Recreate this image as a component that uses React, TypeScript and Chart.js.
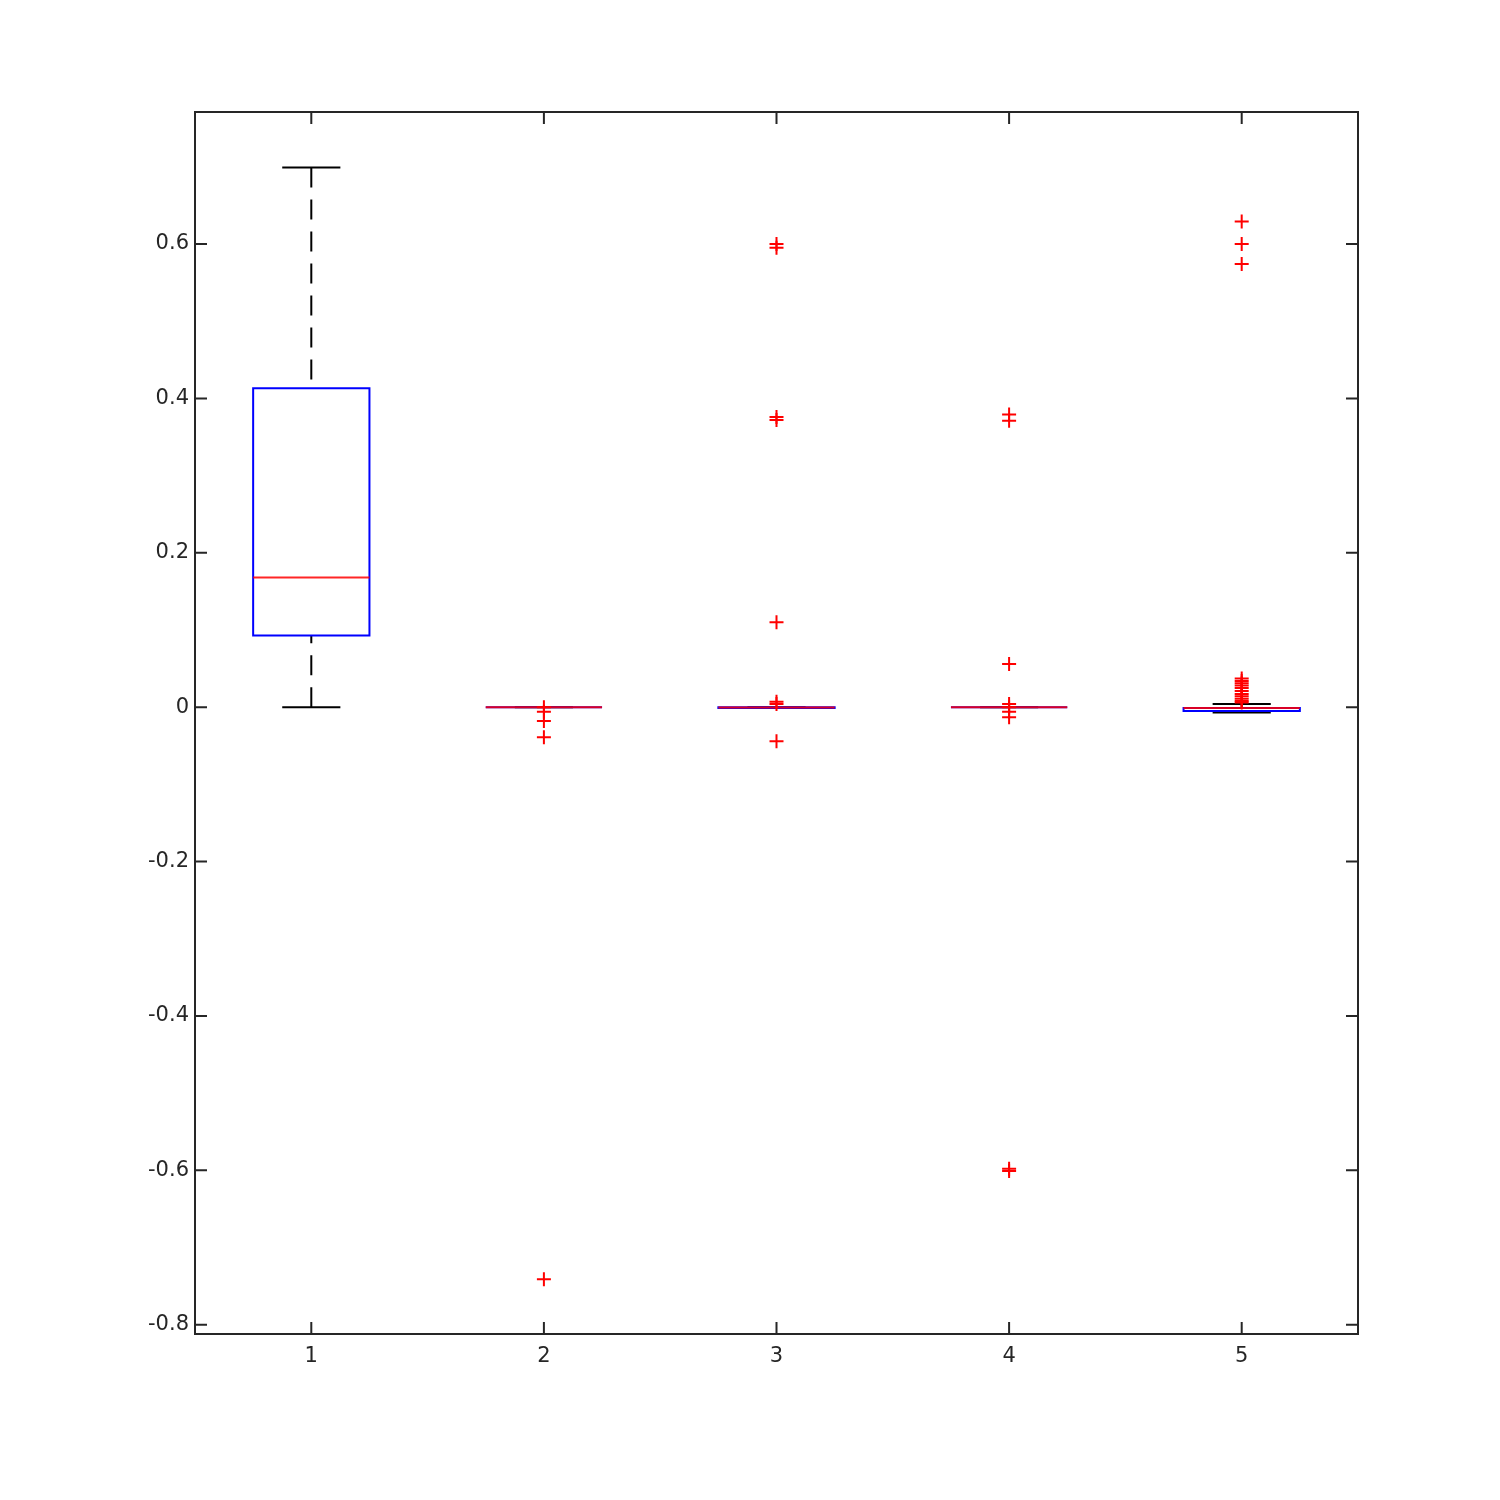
import React, { useEffect, useRef } from "react";
import { Chart, registerables } from "chart.js";

Chart.register(...registerables);

const categories = [1, 2, 3, 4, 5];
const whiskerLow = [0, 0, -0.001, 0, -0.007];
const q1 = [0.093, 0, -0.001, 0, -0.005];
const median = [0.168, 0, -0.0005, 0, -0.0012];
const q3 = [0.413, 0, 0, 0, -0.001];
const whiskerHigh = [0.699, 0, 0, 0, 0.004];

const outliers1: number[] = [];
const outliers2 = [0, -0.006, -0.018, -0.039, -0.741];
const outliers3 = [0.6, 0.595, 0.376, 0.372, 0.11, 0.007, 0.004, -0.044];
const outliers4 = [0.379, 0.371, 0.056, 0.004, 0, -0.006, -0.013, -0.598, -0.601];
const outliers5 = [0.629, 0.6, 0.574, 0.037, 0.034, 0.031, 0.028, 0.025, 0.021, 0.017, 0.014, 0.011, 0.008, 0.006];
const outlierGroups = [outliers1, outliers2, outliers3, outliers4, outliers5];

const yTicks = [-0.8, -0.6, -0.4, -0.2, 0, 0.2, 0.4, 0.6];
const xTicks = [1, 2, 3, 4, 5];

const AXIS_COLOR = "#262626";
const FONT = "'DejaVu Sans', sans-serif";

const boxPlugin = {
  id: "boxes",
  beforeDatasetsDraw(chart: any) {
    const ctx = chart.ctx;
    const xs = chart.scales.x;
    const ys = chart.scales.y;
    const boxHalf = 0.25;
    const capHalf = 0.125;
    ctx.save();
    categories.forEach((c, i) => {
      const xc = xs.getPixelForValue(c);
      const xl = xs.getPixelForValue(c - boxHalf);
      const xr = xs.getPixelForValue(c + boxHalf);
      const cl = xs.getPixelForValue(c - capHalf);
      const cr = xs.getPixelForValue(c + capHalf);
      const yLo = ys.getPixelForValue(whiskerLow[i]);
      const yHi = ys.getPixelForValue(whiskerHigh[i]);
      const yQ1 = ys.getPixelForValue(q1[i]);
      const yQ3 = ys.getPixelForValue(q3[i]);
      const yMed = ys.getPixelForValue(median[i]);
      ctx.lineWidth = 2;
      ctx.strokeStyle = "#000000";
      ctx.setLineDash([20, 12]);
      ctx.beginPath();
      ctx.moveTo(xc, yHi);
      ctx.lineTo(xc, yQ3);
      ctx.stroke();
      ctx.beginPath();
      ctx.moveTo(xc, yLo);
      ctx.lineTo(xc, yQ1);
      ctx.stroke();
      ctx.setLineDash([]);
      ctx.beginPath();
      ctx.moveTo(cl, yHi);
      ctx.lineTo(cr, yHi);
      ctx.moveTo(cl, yLo);
      ctx.lineTo(cr, yLo);
      ctx.stroke();
      ctx.strokeStyle = "#0000FF";
      ctx.beginPath();
      ctx.rect(xl, yQ3, xr - xl, yQ1 - yQ3);
      ctx.stroke();
      ctx.strokeStyle = "rgba(255,0,0,0.85)";
      ctx.beginPath();
      ctx.moveTo(xl, yMed);
      ctx.lineTo(xr, yMed);
      ctx.stroke();
    });
    ctx.restore();
  },
};

const framePlugin = {
  id: "frame",
  afterDraw(chart: any) {
    const ctx = chart.ctx;
    const { left, right, top, bottom } = chart.chartArea;
    const xs = chart.scales.x;
    const ys = chart.scales.y;
    const tl = 12;
    ctx.save();
    ctx.strokeStyle = AXIS_COLOR;
    ctx.lineWidth = 2;
    ctx.beginPath();
    ctx.rect(left, top, right - left, bottom - top);
    ctx.stroke();
    ctx.beginPath();
    yTicks.forEach((v) => {
      const y = ys.getPixelForValue(v);
      ctx.moveTo(left, y);
      ctx.lineTo(left + tl, y);
      ctx.moveTo(right, y);
      ctx.lineTo(right - tl, y);
    });
    xTicks.forEach((v) => {
      const x = xs.getPixelForValue(v);
      ctx.moveTo(x, bottom);
      ctx.lineTo(x, bottom - tl);
      ctx.moveTo(x, top);
      ctx.lineTo(x, top + tl);
    });
    ctx.stroke();
    ctx.restore();
  },
};

export default function App() {
  const ref = useRef<HTMLCanvasElement | null>(null);
  useEffect(() => {
    if (!ref.current) return;
    const points: { x: number; y: number }[] = [];
    outlierGroups.forEach((g, i) => g.forEach((v) => points.push({ x: categories[i], y: v })));
    const chart = new Chart(ref.current, {
      type: "scatter",
      data: {
        datasets: [
          {
            label: "outliers",
            data: points,
            pointStyle: "cross",
            pointRadius: 7,
            pointBorderWidth: 2,
            borderColor: "#FF0000",
            backgroundColor: "#FF0000",
          },
        ],
      },
      options: {
        responsive: false,
        animation: false,
        layout: { padding: { left: 0, top: 112, right: 142, bottom: 0 } },
        plugins: { legend: { display: false }, tooltip: { enabled: false } },
        scales: {
          x: {
            type: "linear",
            min: 0.5,
            max: 5.5,
            grid: { display: false, drawTicks: false },
            border: { display: false },
            afterBuildTicks: (s: any) => {
              s.ticks = xTicks.map((v) => ({ value: v }));
            },
            afterFit: (s: any) => {
              s.height = 166;
            },
            ticks: {
              color: AXIS_COLOR,
              font: { family: FONT, size: 21 },
              padding: 10,
              callback: (v: any) => String(v),
            },
          },
          y: {
            type: "linear",
            min: -0.812,
            max: 0.771,
            grid: { display: false, drawTicks: false },
            border: { display: false },
            afterBuildTicks: (s: any) => {
              s.ticks = yTicks.map((v) => ({ value: v }));
            },
            afterFit: (s: any) => {
              s.width = 195;
            },
            ticks: {
              color: AXIS_COLOR,
              font: { family: FONT, size: 21 },
              padding: 6,
              callback: (v: any) => String(Number(Number(v).toFixed(1))),
            },
          },
        },
      },
      plugins: [boxPlugin, framePlugin],
    });
    return () => chart.destroy();
  }, []);
  return (
    <div style={{ position: "absolute", left: 0, top: 0, width: 1500, height: 1500, background: "#ffffff" }}>
      <canvas ref={ref} width={1500} height={1500} style={{ width: 1500, height: 1500 }} />
    </div>
  );
}
